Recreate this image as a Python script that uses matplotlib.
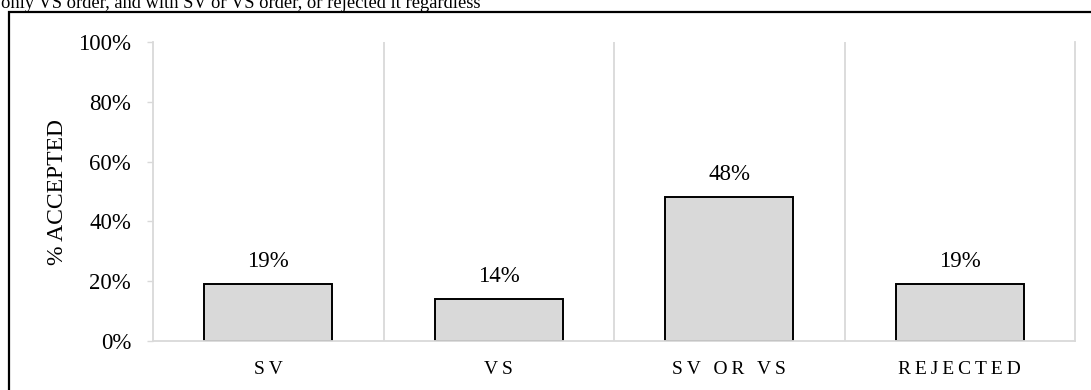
import matplotlib
matplotlib.use("Agg")
import matplotlib.pyplot as plt
from matplotlib.patches import Rectangle
from matplotlib.ticker import FuncFormatter, MultipleLocator

plt.rcParams['font.family'] = ['Liberation Serif', 'DejaVu Serif']

categories = ["SV", "VS", "SV OR VS", "REJECTED"]
accepted = [0.19, 0.14, 0.48, 0.19]
y_label = "% ACCEPTED"
caption = "only VS order, and with SV or VS order, or rejected it regardless"

GRID = "#D9D9D9"
BAR = "#D9D9D9"


def spaced(text):
    """Widen letter spacing the way the category axis does."""
    thin = "\u2009"
    return (thin + " " + thin).join(thin.join(word) for word in text.split(" "))


W, H = 1091, 390
fig = plt.figure(figsize=(W / 100, H / 100), dpi=100)

# frame around the chart area
fig.add_artist(Rectangle((9 / W, -0.1), 1.2, 1 - 12 / H + 0.1,
                         transform=fig.transFigure, fill=False,
                         edgecolor="black", linewidth=1.6, clip_on=False))
fig.text(1 / W, 1 - 8 / H, caption, fontsize=13.3, va="baseline", ha="left")

ax = fig.add_axes([153 / W, 1 - 341 / H, (1075 - 153) / W, (341 - 42) / H])
x = range(len(categories))
bars = ax.bar(x, accepted, width=0.555, color=BAR, edgecolor="black",
              linewidth=1.4, zorder=2)
for xi, v in zip(x, accepted):
    ax.annotate(f"{round(v * 100)}%", (xi, v), xytext=(0, 12.5),
                textcoords="offset points", ha="center", va="baseline",
                fontsize=16.5)

ax.set_xlim(-0.5, len(categories) - 0.5)
ax.set_ylim(0, 1)
ax.yaxis.set_major_locator(MultipleLocator(0.2))
ax.yaxis.set_major_formatter(FuncFormatter(lambda v, _: f"{v * 100:.0f}%"))
ax.tick_params(axis="y", direction="out", length=4.3, width=1, color=GRID,
               labelsize=16.5, pad=11.5)
ax.set_xticks(list(x))
ax.set_xticklabels([spaced(c) for c in categories], fontsize=14)
ax.tick_params(axis="x", length=0, pad=14.5)

for b in [i - 0.5 for i in range(1, len(categories))]:
    ax.axvline(b, color=GRID, linewidth=1.3, zorder=0)
for side in ["left", "right", "bottom"]:
    ax.spines[side].set_color(GRID)
    ax.spines[side].set_linewidth(1.3)
    ax.spines[side].set_zorder(3)
ax.spines["top"].set_visible(False)

ax.set_ylabel(y_label, fontsize=17)
ax.yaxis.set_label_coords(-0.092, 0.498)

fig.savefig("out.png", dpi=100)
